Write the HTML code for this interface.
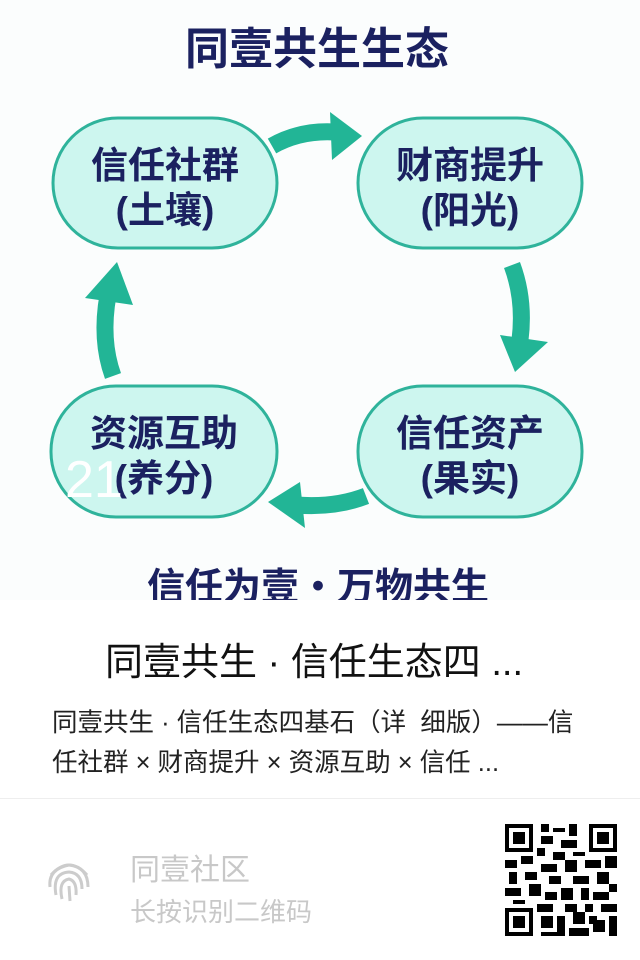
<!DOCTYPE html>
<html><head><meta charset="utf-8"><style>
body{margin:0;width:640px;height:960px;background:#fff;font-family:"Liberation Sans","Noto Sans CJK SC",sans-serif;overflow:hidden;position:relative}
.t{position:absolute;white-space:nowrap}
</style></head><body>
<svg width="640" height="600" style="position:absolute;left:0;top:0" font-family="Liberation Sans, Noto Sans CJK SC, sans-serif">
<rect width="640" height="600" fill="#fbfdfd"/>
<text x="317" y="64" text-anchor="middle" font-size="44" font-weight="bold" fill="#1b2160">同壹共生生态</text>
<g fill="#cdf6ef" stroke="#2fb39b" stroke-width="3">
<rect x="53" y="118" width="224" height="130" rx="65"/>
<rect x="358" y="118" width="224" height="130" rx="65"/>
<rect x="51" y="386" width="226" height="131" rx="65"/>
<rect x="358" y="386" width="224" height="131" rx="65"/>
</g>
<g font-size="37" font-weight="bold" fill="#1b2160" text-anchor="middle">
<text x="165" y="178">信任社群</text><text x="165" y="223">(土壤)</text>
<text x="470" y="178">财商提升</text><text x="470" y="223">(阳光)</text>
<text x="164" y="446">资源互助</text><text x="164" y="491">(养分)</text>
<text x="470" y="446">信任资产</text><text x="470" y="491">(果实)</text>
</g>
<g fill="none" stroke="#22b596" stroke-width="17">
<path d="M272 146 Q300 130 335 132"/>
<path d="M512 265 Q525 300 520 340"/>
<path d="M366 496 Q335 508 296 505"/>
<path d="M113 376 Q100 340 108 295"/>
</g>
<g fill="#22b596">
<polygon points="330,112 362,136 332,160"/>
<polygon points="500,335 548,342 515,372"/>
<polygon points="300,482 268,502 305,528"/>
<polygon points="85,298 117,262 133,305"/>
</g>
<text x="65" y="497" font-size="52" fill="#fff">21</text>
<text x="318" y="600" text-anchor="middle" font-size="38" font-weight="bold" fill="#1b2160">信任为壹・万物共生</text>
</svg>
<div class="t" style="left:105px;top:631px;font-size:38px;color:#111">同壹共生 · 信任生态四 ...</div>
<div class="t" style="left:52px;top:703px;font-size:25.5px;color:#222;line-height:40px">同壹共生 · 信任生态四基石（详&nbsp; 细版）——信<br>任社群 × 财商提升 × 资源互助 × 信任 ...</div>
<div style="position:absolute;left:0;top:798px;width:640px;height:1px;background:#eee"></div>
<svg style="position:absolute;left:46px;top:855px" width="46" height="52" viewBox="0 0 46 52" fill="none" stroke="#ccc" stroke-width="3">
<path d="M5 20 Q23 0 41 20"/><path d="M4 32 Q2 14 23 10 Q42 12 42 32"/><path d="M10 40 Q6 18 23 17 Q36 18 36 34"/><path d="M16 44 Q12 26 23 24 Q31 26 30 40"/><path d="M23 31 L24 46"/>
</svg>
<div class="t" style="left:130px;top:845px;font-size:30px;color:#c8c8c8">同壹社区</div>
<div class="t" style="left:130px;top:892px;font-size:26px;color:#c8c8c8">长按识别二维码</div>
<svg style="position:absolute;left:505px;top:824px" width="112" height="112" viewBox="0 0 28 28" shape-rendering="crispEdges">
<rect width="28" height="28" fill="#fff"/>
<g fill="#000">
<path d="M0 0h7v7h-7zM21 0h7v7h-7zM0 21h7v7h-7z"/>
</g>
<g fill="#fff"><path d="M1 1h5v5h-5zM22 1h5v5h-5zM1 22h5v5h-5z"/></g>
<g fill="#000"><path d="M2 2h3v3h-3zM23 2h3v3h-3zM2 23h3v3h-3z"/>
<path d="M9 0h2v2h-2zM12 1h3v1h-3zM16 0h2v3h-2zM9 3h3v2h-3zM14 4h4v2h-4zM8 6h2v2h-2zM12 7h3v2h-3zM17 7h3v1h-3z
M0 9h3v2h-3zM4 8h3v2h-3zM9 10h4v2h-4zM15 9h3v3h-3zM20 9h4v2h-4zM25 8h3v3h-3zM1 12h2v3h-2zM5 12h3v2h-3zM11 13h3v2h-3zM17 13h4v2h-4zM23 12h3v3h-3z
M0 16h4v2h-4zM6 15h3v3h-3zM10 17h3v2h-3zM14 16h3v3h-3zM19 16h2v3h-2zM22 17h4v2h-4zM26 15h2v2h-2zM2 19h3v1h-3zM8 20h4v2h-4zM15 20h3v2h-3zM20 20h2v2h-2zM24 20h4v2h-4z
M9 23h3v3h-3zM13 23h2v5h-2zM17 22h3v3h-3zM21 23h2v2h-2zM22 24h3v3h-3zM26 23h2v5h-2zM9 27h4v1h-4zM16 26h5v2h-5z"/></g>
</svg>
</body></html>
